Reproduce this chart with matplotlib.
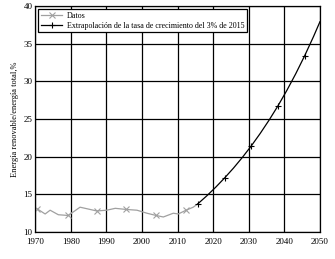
import matplotlib
matplotlib.use("Agg")
import matplotlib.pyplot as plt

# Observed data (renewable share, %)
data_years = [1970.5, 1972.8, 1974.2, 1976.5, 1979.3, 1982.6, 1984.5, 1987.3,
              1990.1, 1992.5, 1995.6, 1998.6, 2001.4, 2004.0, 2006.0, 2008.8,
              2010.2, 2012.4, 2014.4, 2015.7]
data_values = [13.1, 12.4, 12.9, 12.3, 12.2, 13.3, 13.1, 12.8,
               12.9, 13.15, 13.0, 12.9, 12.5, 12.2, 12.0, 12.5,
               12.4, 12.9, 13.3, 13.75]
data_marks = [0, 4, 7, 10, 13, 17]

# Extrapolation at 3% growth from 2015
ext_years = [2015.7, 2018.2, 2020.7, 2023.2, 2025.7, 2028.2, 2030.7, 2033.2,
             2035.7, 2038.2, 2040.7, 2043.2, 2045.7, 2048.2, 2050]
ext_values = [13.75, 14.80, 15.94, 17.17, 18.48, 19.90, 21.42, 23.07,
              24.84, 26.74, 28.79, 31.00, 33.38, 35.94, 37.9]
ext_marks = [0, 3, 6, 9, 12]

plt.rcParams['font.family'] = 'Liberation Serif'
plt.rcParams['font.size'] = 6.5

fig = plt.figure(figsize=(3.35, 2.59), dpi=100)
ax = fig.add_axes([0.105, 0.104, 0.85, 0.873])

ax.plot(data_years, data_values, color='#a0a0a0', lw=0.9, marker='x', ms=4,
        mew=0.8, markevery=data_marks, label='Datos')
ax.plot(ext_years, ext_values, color='black', lw=0.9, marker='+', ms=5,
        mew=0.8, markevery=ext_marks,
        label='Extrapolación de la tasa de crecimiento del 3% de 2015')

ax.set_xlim(1970, 2050)
ax.set_ylim(10, 40)
ax.set_xticks(range(1970, 2051, 10))
ax.set_yticks(range(10, 41, 5))
ax.grid(True, color='black', lw=0.9)
ax.tick_params(axis='y', length=0, pad=2)
ax.tick_params(axis='x', length=0, pad=4)
for s in ax.spines.values():
    s.set_linewidth(0.9)

ax.set_ylabel('Energía renovable/energía total,%', fontsize=6, labelpad=3)

leg = ax.legend(loc='upper left', fontsize=5.8, fancybox=False,
                framealpha=1, edgecolor='black', borderaxespad=0.4,
                handlelength=2.6, handletextpad=0.6, borderpad=0.35,
                labelspacing=0.2)
leg.get_frame().set_linewidth(0.9)

fig.savefig('out.png', dpi=100)
